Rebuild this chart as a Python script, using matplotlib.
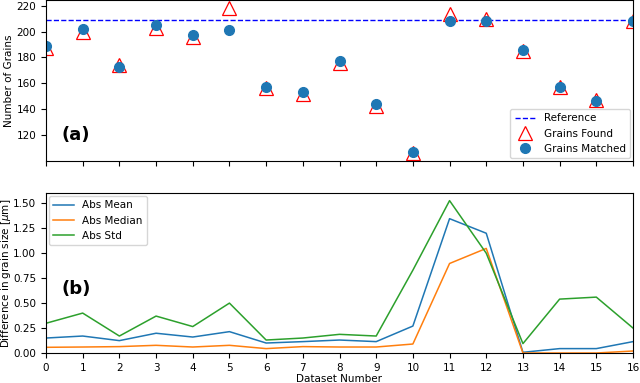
import matplotlib.pyplot as plt
import numpy as np

# Data
datasets = list(range(17))
reference = 209
grains_found = [187, 200, 174, 203, 196, 218.5, 156, 152, 176, 142, 106, 214, 210, 185, 157, 147, 208]
grains_matched = [189, 202, 172.5, 205, 197.5, 201, 157, 153.5, 177, 143.5, 106.5, 208, 208, 186, 157, 146, 208.5]

abs_mean = [0.15, 0.17, 0.124, 0.198, 0.16, 0.214, 0.10, 0.114, 0.13, 0.114, 0.27, 1.346, 1.20, 0.007, 0.044, 0.044, 0.114]
abs_median = [0.057, 0.06, 0.064, 0.077, 0.06, 0.077, 0.044, 0.064, 0.06, 0.06, 0.09, 0.897, 1.048, 0.0, 0.0, 0.0, 0.02]
abs_std = [0.298, 0.40, 0.17, 0.37, 0.265, 0.50, 0.13, 0.15, 0.187, 0.17, 0.83, 1.527, 1.0, 0.094, 0.54, 0.56, 0.25]

fs = 7.5
plt.rcParams['font.size'] = fs

fig = plt.figure(figsize=(6.4, 3.83), dpi=100)
ax1 = fig.add_axes([46 / 640, 1 - 161 / 383, 587 / 640, 161 / 383])
ax2 = fig.add_axes([46 / 640, 1 - 353 / 383, 587 / 640, 160 / 383], sharex=ax1)

# (a) grain counts
ax1.axhline(reference, color='b', linestyle='--', linewidth=1, label='Reference')
ax1.plot(datasets, grains_found, linestyle='none', marker='^', markersize=10.5,
         markerfacecolor='white', markeredgecolor='red', markeredgewidth=0.9, label='Grains Found')
ax1.plot(datasets, grains_matched, linestyle='none', marker='o', markersize=7,
         color='#1f77b4', label='Grains Matched')
ax1.set_xlim(0, 16)
ax1.set_ylim(99.7, 224.5)
ax1.set_yticks([120, 140, 160, 180, 200, 220])
ax1.set_ylabel('Number of Grains')
ax1.yaxis.set_label_coords(-0.054, 0.5)
ax1.tick_params(labelbottom=False)
ax1.text(0.027, 0.16, '(a)', transform=ax1.transAxes, fontsize=13,
         fontweight='bold', va='center')
ax1.legend(loc='lower right', fontsize=fs, borderaxespad=0.3)

# (b) grain size differences
ax2.plot(datasets, abs_mean, color='#1f77b4', linewidth=1.1, label='Abs Mean')
ax2.plot(datasets, abs_median, color='#ff7f0e', linewidth=1.1, label='Abs Median')
ax2.plot(datasets, abs_std, color='#2ca02c', linewidth=1.1, label='Abs Std')
ax2.set_ylim(bottom=0)
ax2.set_yticks([0, 0.25, 0.5, 0.75, 1.0, 1.25, 1.5])
ax2.set_yticklabels(['0.00', '0.25', '0.50', '0.75', '1.00', '1.25', '1.50'])
ax2.set_xticks(datasets)
ax2.set_xlabel('Dataset Number', labelpad=1)
ax2.set_ylabel(r'Difference in grain size [$\mu$m]')
ax2.yaxis.set_label_coords(-0.057, 0.5)
ax2.text(0.027, 0.40, '(b)', transform=ax2.transAxes, fontsize=13,
         fontweight='bold', va='center')
ax2.legend(loc='upper left', fontsize=fs, borderaxespad=0.3)

fig.savefig('out.png', dpi=100)
